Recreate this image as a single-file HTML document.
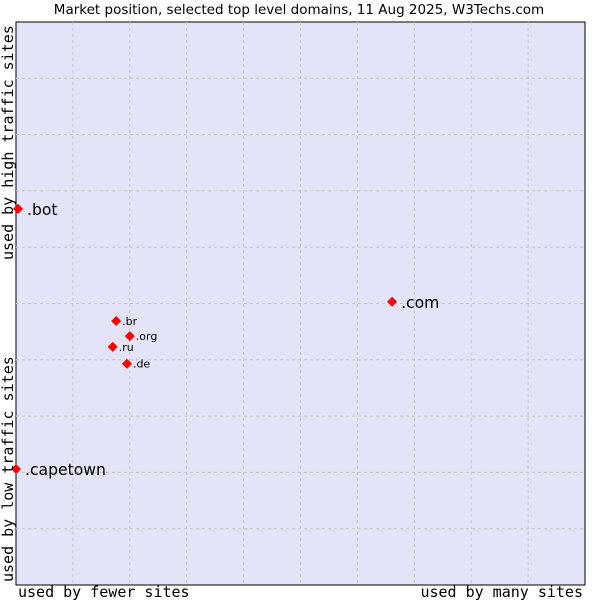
<!DOCTYPE html>
<html><head><meta charset="utf-8"><style>
body{margin:0;background:#fff;width:600px;height:600px;overflow:hidden}
svg{display:block}
</style></head><body>
<svg id="chart" width="600" height="600" xmlns="http://www.w3.org/2000/svg">
<text x="299" y="14" text-anchor="middle" font-family="DejaVu Sans, sans-serif" font-size="13.5" fill="#000">Market position, selected top level domains, 11 Aug 2025, W3Techs.com</text>
<rect x="16" y="22" width="569" height="563" fill="#e4e4f8" stroke="#000" stroke-width="1"/>
<g id="grid"></g>
<g id="points"></g>
<text x="18" y="597" font-family="DejaVu Sans Mono, Liberation Mono, monospace" font-size="15">used by fewer sites</text>
<text x="583" y="597" text-anchor="end" font-family="DejaVu Sans Mono, Liberation Mono, monospace" font-size="15">used by many sites</text>
<text transform="translate(13,582) rotate(-90)" font-family="DejaVu Sans Mono, Liberation Mono, monospace" font-size="15">used by low traffic sites</text>
<text transform="translate(13,260) rotate(-90)" font-family="DejaVu Sans Mono, Liberation Mono, monospace" font-size="15">used by high traffic sites</text>
</svg>
<script>
const names = ['.bot','.com','.br','.org','.ru','.de','.capetown'];
const xValues = [0.35,66.1,17.6,20.0,17.0,19.5,0];
const yValues = [66.8,50.3,46.9,44.2,42.3,39.3,20.6];
const bigLabel = [true,true,false,false,false,false,true];
const L=16,T=22,W=569,H=563;
function sx(v){return L+v/100*W;}
function sy(v){return T+H-v/100*H;}
const NS='http://www.w3.org/2000/svg';
const grid=document.getElementById('grid');
for(let i=1;i<10;i++){
  const v=document.createElementNS(NS,'line');
  v.setAttribute('x1',sx(i*10));v.setAttribute('x2',sx(i*10));v.setAttribute('y1',T);v.setAttribute('y2',T+H);
  v.setAttribute('stroke','#c4c4c4');v.setAttribute('stroke-dasharray','3,3');
  
  
  grid.appendChild(v);
  const h=document.createElementNS(NS,'line');
  h.setAttribute('y1',sy(i*10));h.setAttribute('y2',sy(i*10));h.setAttribute('x1',L);h.setAttribute('x2',L+W);
  h.setAttribute('stroke','#c4c4c4');h.setAttribute('stroke-dasharray','3,3');
  
  
  grid.appendChild(h);
}
const pts=document.getElementById('points');
names.forEach((n,i)=>{
  const x=sx(xValues[i]),y=sy(yValues[i]);
  const d=document.createElementNS(NS,'path');
  d.setAttribute('d',`M${x-5},${y} L${x},${y-5} L${x+5},${y} L${x},${y+5} Z`);
  d.setAttribute('fill','#ff0000');
  
  
  pts.appendChild(d);
  const t=document.createElementNS(NS,'text');
  t.setAttribute('x',x+(bigLabel[i]?9:6));
  t.setAttribute('y',y+(bigLabel[i]?6:4));
  t.setAttribute('font-family','DejaVu Sans, sans-serif');
  t.setAttribute('font-size',bigLabel[i]?'15.6':'11');
  t.textContent=n;
  
  
  pts.appendChild(t);
});
</script>
</body></html>
